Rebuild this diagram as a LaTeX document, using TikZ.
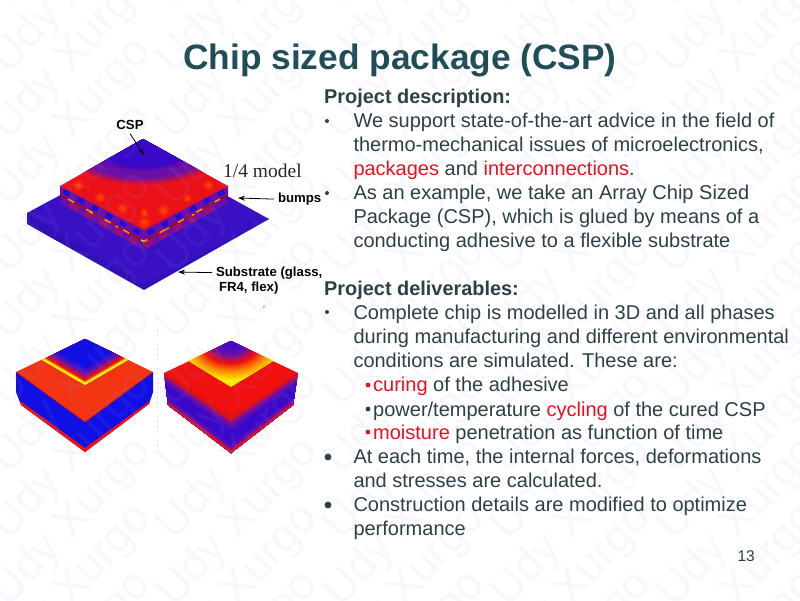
\documentclass[tikz,border=0pt]{standalone}
\usepackage{fontspec}
\setmainfont{Liberation Sans}
\newfontfamily\serifface{Liberation Serif}
\usetikzlibrary{calc,arrows.meta}
\definecolor{bodyc}{HTML}{2B4044}
\definecolor{titlec}{HTML}{1F4D55}
\definecolor{redw}{HTML}{E8101C}
\definecolor{subtop}{HTML}{3A10C4}
\definecolor{subfront}{HTML}{3210B8}
\definecolor{chred}{HTML}{EC1018}
\definecolor{chpurple}{HTML}{6A10A8}
\definecolor{chblue}{HTML}{3A08C8}
\definecolor{hotspot}{HTML}{FF4A00}
\definecolor{bblue}{HTML}{1010E4}
\definecolor{bpurple}{HTML}{6410B0}
\definecolor{bred}{HTML}{F01010}
\definecolor{borange}{HTML}{F23412}
\definecolor{byellow}{HTML}{FFF000}
\definecolor{bgreen}{HTML}{C4F020}
\definecolor{porange}{HTML}{FF8A00}
\definecolor{wmk}{HTML}{9C9CF0}
\tikzset{
  line/.style={anchor=base west,inner sep=0pt,text=bodyc,font=\fontsize{20}{22}\selectfont},
  head/.style={line,font=\fontsize{19.9}{22}\selectfont\bfseries},
  lab/.style={anchor=base west,inner sep=0pt,outer sep=4pt,text=black,font=\fontsize{13.2}{15}\selectfont\bfseries},
  ptr/.style={draw=black,line width=0.8pt,-{Stealth[length=7pt,width=5pt]}},
  wm/.style={rotate=47,text=wmk,text opacity=0.075,font=\fontsize{45}{50}\selectfont,inner sep=0pt},
  hot/.style={shading=radial,inner color=hotspot,outer color=chred}
}
\newcommand{\edgegrad}[8]{% top edge #1-#2, bottom edge #3-#4, range #5..#6, colours #7->#8
  \foreach \k in {0,...,7}{
    \pgfmathsetmacro{\tt}{#5+(#6-#5)*\k/8}
    \pgfmathsetmacro{\pp}{100*\k/7}
    \fill[#8!\pp!#7] ($(#1)!\tt!(#3)$) -- ($(#2)!\tt!(#4)$) -- (#4) -- (#3) -- cycle;
  }}
\newcommand{\ringgrad}[6]{% centre #1, aspect #2, radius #3 -> #4, colours #5 -> #6
  \foreach \k in {0,...,9}{
    \pgfmathsetmacro{\rr}{#3+(#4-#3)*\k/9}
    \pgfmathsetmacro{\rx}{\rr*#2}
    \pgfmathsetmacro{\pp}{100*\k/9}
    \fill[#6!\pp!#5] (#1) ellipse [x radius=\rx pt,y radius=\rr pt];
  }}
\newcommand{\vgrad}[8]{% apex #1, corners #2 #3 #4, scale #5 -> #6, colours #7 -> #8
  \foreach \k in {0,...,9}{
    \pgfmathsetmacro{\ss}{#5+(#6-#5)*\k/9}
    \pgfmathsetmacro{\pp}{100*\k/9}
    \fill[#8!\pp!#7] (#1) -- ($(#1)!\ss!(#2)$) -- ($(#1)!\ss!(#3)$) -- ($(#1)!\ss!(#4)$) -- cycle;
  }}
\begin{document}
\begin{tikzpicture}[x=1pt,y=-1pt]
\useasboundingbox (0,0) rectangle (800,600);
\fill[white] (0,0) rectangle (800,600);

% ---------- upper figure: substrate
\coordinate (sL) at (27,213); \coordinate (sLb) at (27,224);
\coordinate (sB) at (144,290); \coordinate (sR) at (269,219);
\coordinate (sT) at (144,150); \coordinate (sF) at (144,284);
\fill[subfront] (sL) -- (sLb) -- (sB) -- (sR) -- cycle;
\fill[subtop] (sL) -- (sT) -- (sR) -- (sF) -- cycle;
% glow of the bumps on the substrate
\draw[line width=9pt,color=chpurple,line join=round] (62,199) -- (144,245) -- (226,199);
\draw[line width=6pt,color=redw!35!chpurple,dash pattern=on 9pt off 8pt,line join=round] (70,205) -- (144,246) -- (218,205);

% chip sides
\coordinate (cA) at (143,139); \coordinate (cL) at (60,186); \coordinate (cR) at (228,186);
\coordinate (cF) at (144,230); \coordinate (cLb) at (60,195); \coordinate (cRb) at (228,195);
\coordinate (cFb) at (144,241);
\fill[chpurple] (cL) -- (cLb) -- (cFb) -- (cRb) -- (cR) -- (cF) -- cycle;
\draw[line width=5pt,color=bblue!60!chblue,dash pattern=on 7pt off 9pt] (64,191) -- (144,235.5) -- (224,191);
\draw[line width=1.6pt,color=redw!70!black,line join=round] (cLb) -- (cFb) -- (cRb);
\draw[line width=1.6pt,color=porange,dash pattern=on 7pt off 14pt] (68,199) -- (144,241.5) -- (220,199);
\draw[line width=0.8pt,color=byellow,dash pattern=on 3pt off 26pt] (90,212) -- (144,241.5) -- (200,211);

% chip top
\begin{scope}
\clip (cA) -- (cL) -- (cF) -- (cR) -- cycle;
\fill[chred] (cA) -- (cL) -- (cF) -- (cR) -- cycle;
\foreach \px/\py/\rad in {78/185/6,100/197/6,122/208/6,163/210/7,187/198/5,208/185/6,144/222/7}{
  \shade[hot] (\px,\py) circle (\rad pt);
}
\shade[hot] (144,206) -- (150,219) -- (138,219) -- cycle;
\ringgrad{cA}{1.9}{47}{39}{chred}{chpurple}
\fill[chpurple] (cA) ellipse [x radius=74pt,y radius=39pt];
\ringgrad{cA}{1.9}{33}{28}{chpurple}{chblue}
\end{scope}
\draw[chred!70!chpurple,line width=0.5pt] (cL) -- (cF) -- (cR);

% ---------- left box
\coordinate (aA) at (85,339); \coordinate (aL) at (16,372); \coordinate (aR) at (153,372);
\coordinate (aF) at (85,422); \coordinate (aLb) at (21,405); \coordinate (aRb) at (149,404);
\coordinate (aB) at (85,452); \coordinate (aLm) at (16,392); \coordinate (aRm) at (153,392);
\coordinate (aiL) at (42,360); \coordinate (aiR) at (128,360); \coordinate (aiF) at (85,385);
\fill[bblue] (aL) -- (aLm) -- (aLb) -- (aB) -- (aF) -- cycle;
\fill[bblue] (aR) -- (aRm) -- (aRb) -- (aB) -- (aF) -- cycle;
\fill[bred] (20,401) -- (aLb) -- (aB) -- (85,448) -- cycle;
\fill[bred] (150,401) -- (aRb) -- (aB) -- (85,448) -- cycle;
\fill[borange] (aA) -- (aL) -- (aF) -- (aR) -- cycle;
\draw[bred!80!black,line width=0.6pt] (aL) -- (aF) -- (aR);
\vgrad{aA}{aiL}{aiF}{aiR}{1}{0.97}{bgreen}{byellow}
\vgrad{aA}{aiL}{aiF}{aiR}{0.96}{0.90}{byellow}{bred}
\vgrad{aA}{aiL}{aiF}{aiR}{0.90}{0.76}{bred}{bpurple}
\vgrad{aA}{aiL}{aiF}{aiR}{0.76}{0.62}{bpurple}{bblue}

% ---------- right box
\coordinate (bA) at (231,341); \coordinate (bL) at (164,373); \coordinate (bR) at (298,373);
\coordinate (bF) at (231,418); \coordinate (bLb) at (168,405); \coordinate (bRb) at (293,405);
\coordinate (bB) at (231,453); \coordinate (biL) at (189,361); \coordinate (biR) at (273,361);
\coordinate (biF) at (231,387);
\foreach \ee/\ff in {bL/bLb,bR/bRb}{
  \edgegrad{\ee}{bF}{\ff}{bB}{0}{0.22}{bred}{bpurple}
  \edgegrad{\ee}{bF}{\ff}{bB}{0.22}{0.42}{bpurple}{chblue}
  \edgegrad{\ee}{bF}{\ff}{bB}{0.42}{0.70}{chblue}{chblue}
  \edgegrad{\ee}{bF}{\ff}{bB}{0.70}{0.86}{chblue}{bpurple}
  \edgegrad{\ee}{bF}{\ff}{bB}{0.86}{0.98}{bpurple}{bred}
}
\fill[bred] (bA) -- (bL) -- (bF) -- (bR) -- cycle;
\draw[bred!80!black,line width=0.6pt] (bL) -- (bF) -- (bR);
\begin{scope}
\clip (bA) -- (biL) -- (biF) -- (biR) -- cycle;
\fill[byellow] (bA) -- (biL) -- (biF) -- (biR) -- cycle;
\ringgrad{bA}{1.3}{40}{31}{byellow}{porange}
\ringgrad{bA}{1.3}{31}{23}{porange}{bred}
\ringgrad{bA}{1.3}{23}{14}{bred}{bpurple}
\ringgrad{bA}{1.3}{14}{6}{bpurple}{chblue!80!bpurple}
\end{scope}

% tiny marks of the reference
\draw[black!18,line width=0.4pt,dash pattern=on 0.8pt off 4pt] (157,330) -- (157,450);
\node[inner sep=0pt,text=black!55,font=\fontsize{5}{6}\selectfont] (zmark) at (264,307) {z};

% ---------- figure labels
\node[lab,anchor=center] (csp) at (130,125) {CSP};
\coordinate (cspT) at (144,155);
\draw[ptr] (csp.south) -- (cspT);
\node[inner sep=0pt,anchor=base west,text=black!85,font=\serifface\fontsize{19.5}{22}\selectfont] (model) at (223,177) {1/4 model};
\node[lab] (bumps) at (274,202.5) {bumps};
\coordinate (bumpsT) at (238,198);
\draw[ptr] (bumps.west) -- (bumpsT);
\node[lab] (subs) at (212,276) {Substrate (glass,};
\node[lab] (subs2) at (215,291) {FR4, flex)};
\coordinate (subsT) at (178,272);
\draw[ptr] (subs.west) -- (subsT);

% ---------- title and text
\node[anchor=base,inner sep=0pt,text=titlec,font=\fontsize{35.3}{38}\selectfont\bfseries] (title) at (400,69) {Chip sized package (CSP)};

\node[head] (h1) at (324,103) {Project description:};
\fill[bodyc] (327,121) circle (2pt) (327,193) circle (2pt);
\node[line] (l1) at (353.3,127) {We support state-of-the-art advice in the field of};
\node[line] (l2) at (353.3,151) {thermo-mechanical issues of microelectronics,};
\node[line] (l3) at (353.3,175) {\textcolor{redw}{packages} and \textcolor{redw}{interconnections}.};
\node[line] (l4) at (353.3,199) {As an example, we take an Array Chip Sized};
\node[line] (l5) at (353.3,223.7) {Package (CSP), which is glued by means of a};
\node[line] (l6) at (353.3,247.7) {conducting adhesive to a flexible substrate};
\node[head] (h2) at (324,295) {Project deliverables:};
\fill[bodyc] (327,312) circle (2pt);
\node[line] (l7) at (353.3,319) {Complete chip is modelled in 3D and all phases};
\node[line] (l8) at (353.3,343.3) {during manufacturing and different environmental};
\node[line] (l9) at (353.3,367) {conditions are simulated. These are:};
\fill[redw] (368,385) circle (2.4pt);
\node[line] (l10) at (373,391.7) {\textcolor{redw}{curing} of the adhesive};
\fill[bodyc] (368,409) circle (2.4pt);
\node[line] (l11) at (373,416) {power/temperature \textcolor{redw}{cycling} of the cured CSP};
\fill[redw] (368,432) circle (2.4pt);
\node[line] (l12) at (373,439) {\textcolor{redw}{moisture} penetration as function of time};
\fill[bodyc] (328,457) circle (3.4pt) (328,505) circle (3.4pt);
\node[line] (l13) at (353.3,463) {At each time, the internal forces, deformations};
\node[line] (l14) at (353.3,487) {and stresses are calculated.};
\node[line] (l15) at (353.3,511.7) {Construction details are modified to optimize};
\node[line] (l16) at (353.3,535.7) {performance};
\node[anchor=base east,inner sep=0pt,text=bodyc,font=\fontsize{15.5}{17}\selectfont] (pageno) at (755,561.7) {13};

% ---------- watermark
\foreach \cc in {-1,...,4}{
  \foreach \rw in {-2,...,9}{
    \node[wm] at ({72+166.67*\cc},{56+66.67*\rw}) {Udy Xurgo};
  }
}
\end{tikzpicture}
\end{document}
